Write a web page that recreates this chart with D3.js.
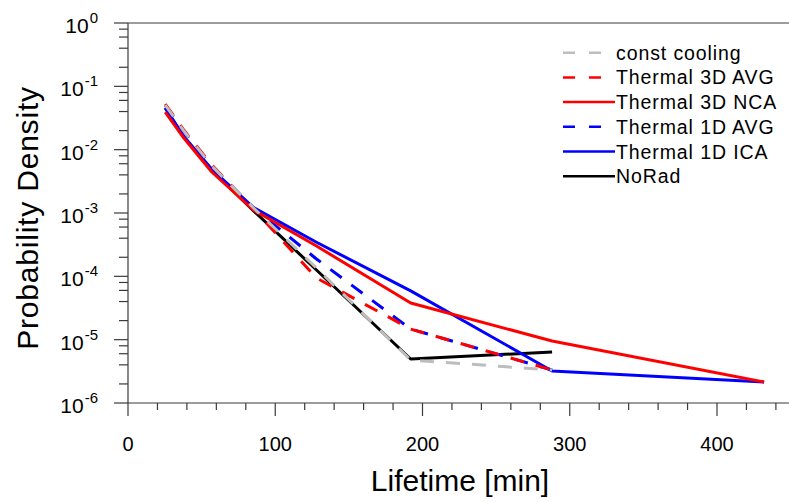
<!DOCTYPE html>
<html><head><meta charset="utf-8">
<script src="https://cdn.jsdelivr.net/npm/d3@7"></script>
<style>body{margin:0;background:#fff}svg{display:block}text{font-family:"Liberation Sans",Arial,Helvetica,sans-serif}</style>
</head><body><svg id="c" width="789" height="502"></svg>
<script>
// Lifetime bins [min]
const lifetimes = [25.3, 37.9, 56.9, 85.3, 128, 192, 288, 432];
// Probability density per series (null = no value)
const constCooling = [0.0507, 0.0197, 0.00552, 0.00120, 1.35e-4, 4.77e-6, 3.32e-6, null];
const thermal3DAVG = [0.0526, 0.0204, 0.00573, 0.00116, 9.4e-5, 1.47e-5, 3.32e-6, null];
const thermal3DNCA = [0.0393, 0.01528, 0.00444, 0.00111, 3.01e-4, 3.79e-5, 9.52e-6, 2.14e-6];
const thermal1DAVG = [0.0500, 0.0197, 0.00550, 0.00120, 1.88e-4, 1.47e-5, 3.32e-6, null];
const thermal1DICA = [0.0455, 0.0162, 0.00490, 0.00122, 3.45e-4, 5.9e-5, 3.2e-6, 2.14e-6];
const noRad        = [0.0455, 0.01585, 0.00477, 0.00108, 1.26e-4, 4.95e-6, 6.38e-6, null];
const seriesNames = ["const cooling","Thermal 3D AVG","Thermal 3D NCA","Thermal 1D AVG","Thermal 1D ICA","NoRad"];
const xTicks = [0, 100, 200, 300, 400];
const yExponents = [0, -1, -2, -3, -4, -5, -6];

const series = [
  {name: seriesNames[0], values: constCooling, color: "#bdbdbd", dash: "14,12"},
  {name: seriesNames[1], values: thermal3DAVG, color: "#ff0000", dash: "14,12"},
  {name: seriesNames[2], values: thermal3DNCA, color: "#ff0000", dash: null},
  {name: seriesNames[3], values: thermal1DAVG, color: "#0000ff", dash: "14,12"},
  {name: seriesNames[4], values: thermal1DICA, color: "#0000ff", dash: null},
  {name: seriesNames[5], values: noRad,        color: "#000000", dash: null}
];

const svg = d3.select("#c");
const L = 128, T = 23, B = 403;
const x = d3.scaleLinear().domain([0, 450]).range([L, L + 450 * 1.4725]);
const y = d3.scaleLog().domain([1e-6, 1]).range([B, T]);
const axisColor = "#3a3a3a";

// y minor ticks
const yMinor = [];
for (let k = -6; k < 0; k++) for (const m of [2, 4, 6, 8]) yMinor.push(m * Math.pow(10, k));
svg.append("g").selectAll("line").data(yMinor).join("line")
  .attr("x1", L - 9).attr("x2", L).attr("y1", d => y(d)).attr("y2", d => y(d))
  .attr("stroke", axisColor).attr("stroke-width", 1.2);
svg.append("g").selectAll("line").data(yExponents).join("line")
  .attr("x1", L - 14).attr("x2", L).attr("y1", d => y(Math.pow(10, d))).attr("y2", d => y(Math.pow(10, d)))
  .attr("stroke", axisColor).attr("stroke-width", 1.2);
// x ticks
const xMinor = d3.range(0, 451, 20).filter(v => v % 100 !== 0);
svg.append("g").selectAll("line").data(xMinor).join("line")
  .attr("x1", d => x(d)).attr("x2", d => x(d)).attr("y1", B).attr("y2", B + 7)
  .attr("stroke", axisColor).attr("stroke-width", 1.2);
svg.append("g").selectAll("line").data(xTicks).join("line")
  .attr("x1", d => x(d)).attr("x2", d => x(d)).attr("y1", B).attr("y2", B + 13)
  .attr("stroke", axisColor).attr("stroke-width", 1.2);
// frame
svg.append("line").attr("x1", L).attr("x2", L).attr("y1", T).attr("y2", B).attr("stroke", axisColor).attr("stroke-width", 1.2);
svg.append("line").attr("x1", L).attr("x2", 789).attr("y1", T).attr("y2", T).attr("stroke", axisColor).attr("stroke-width", 1.2);
svg.append("line").attr("x1", L).attr("x2", 789).attr("y1", B).attr("y2", B).attr("stroke", axisColor).attr("stroke-width", 1.2);

// y tick labels
const yl = svg.append("g").selectAll("text").data(yExponents).join("text")
  .attr("x", 98).attr("y", d => y(Math.pow(10, d)) + 10).attr("text-anchor", "end")
  .attr("font-size", 21).attr("fill", "#000");
yl.append("tspan").text("10");
yl.append("tspan").attr("dy", -10).attr("dx", 1).attr("font-size", 15).text(d => d);

// x tick labels
svg.append("g").selectAll("text").data(xTicks).join("text")
  .attr("x", d => x(d)).attr("y", 451).attr("text-anchor", "middle")
  .attr("font-size", 20).text(d => d);

// axis titles
svg.append("text").attr("x", 460).attr("y", 491).attr("text-anchor", "middle")
  .attr("font-size", 30).text("Lifetime [min]");
svg.append("text").attr("transform", "translate(38,218) rotate(-90)").attr("text-anchor", "middle")
  .attr("font-size", 30).attr("letter-spacing", 0.8).text("Probability Density");

// lines
const line = d3.line().defined(d => d[1] != null).x(d => x(d[0])).y(d => y(d[1]));
const drawOrder = [5, 4, 3, 2, 1, 0];
const g = svg.append("g");
for (const i of drawOrder) {
  const s = series[i];
  g.append("path").attr("d", line(lifetimes.map((t, j) => [t, s.values[j]])))
    .attr("fill", "none").attr("stroke", s.color).attr("stroke-width", 3)
    .attr("stroke-linejoin", "round")
    .attr("stroke-dasharray", s.dash);
}

// legend
const lg = svg.append("g");
series.forEach((s, i) => {
  const ly = 52.7 + i * 24.7;
  lg.append("line").attr("x1", 563).attr("x2", 615).attr("y1", ly).attr("y2", ly)
    .attr("stroke", s.color).attr("stroke-width", 2.5)
    .attr("stroke-dasharray", s.dash ? "12,14" : null);
  lg.append("text").attr("x", 616).attr("y", ly + 7).attr("font-size", 19.5)
    .attr("letter-spacing", 0.9).text(s.name);
});
</script></body></html>
